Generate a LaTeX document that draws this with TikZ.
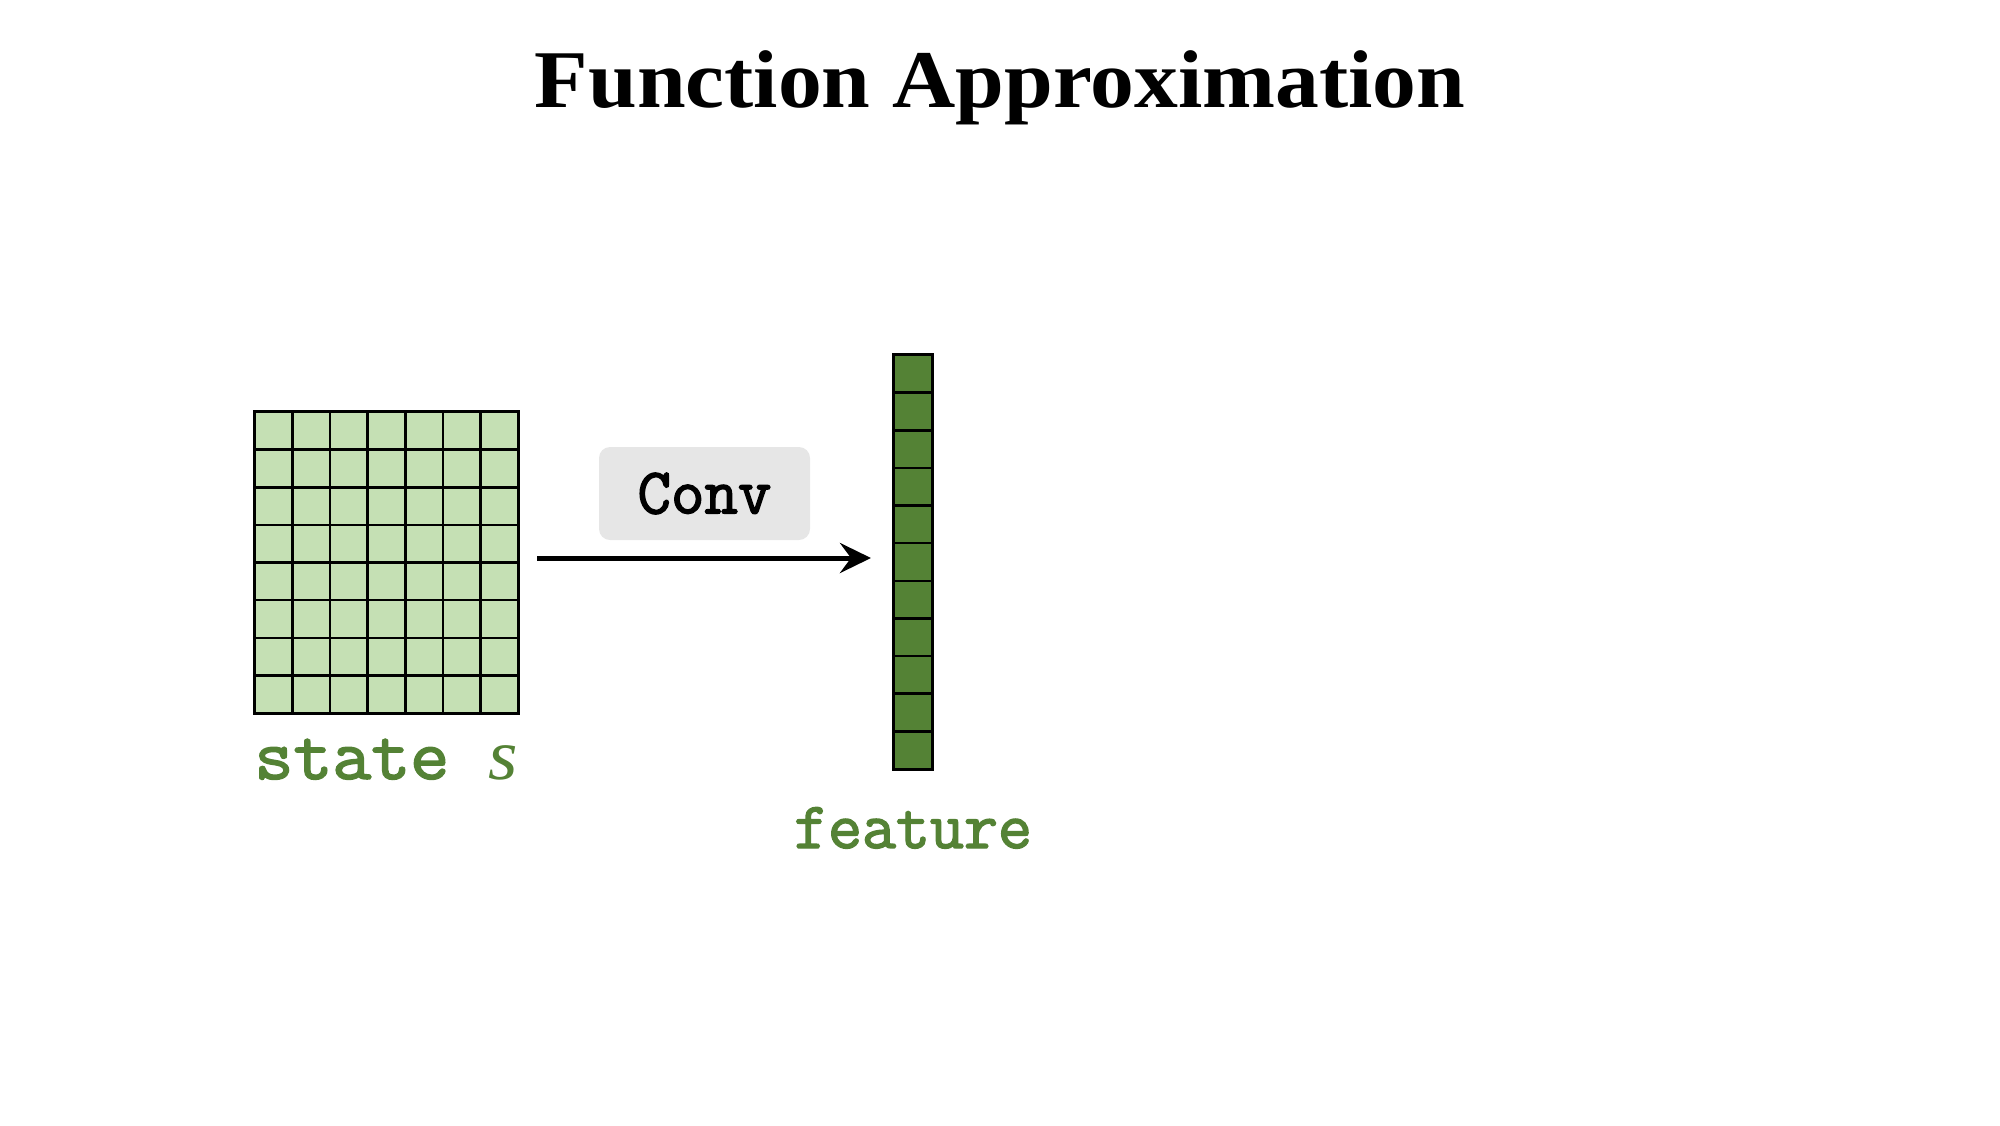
\documentclass[tikz,border=0pt]{standalone}
\usepackage{fontspec}
\setmainfont{Liberation Serif}
\newfontfamily\ttbold[FakeBold=2.2]{Latin Modern Mono}
\usetikzlibrary{arrows.meta}
\definecolor{lightg}{HTML}{C5E0B4}
\definecolor{darkg}{HTML}{548235}
\definecolor{boxgray}{HTML}{E6E6E6}
\tikzset{
  cellline/.style={line width=2.5pt, draw=black},
  borderline/.style={line width=3pt, draw=black},
  labeltext/.style={text=darkg, anchor=base, inner sep=0pt},
  convbox/.style={fill=boxgray, rounded corners=11pt, minimum width=211pt, minimum height=93pt, inner sep=0pt,
    font=\fontsize{65}{65}\selectfont\ttbold},
  flowarrow/.style={line width=5pt, -{Stealth[length=31pt, width=30pt, inset=11pt]}}
}
\begin{document}
\begin{tikzpicture}[x=1pt,y=-1pt]
\useasboundingbox (0,0) rectangle (2000,1125);
% title
\node[font=\fontsize{82}{82}\selectfont\bfseries, anchor=base, inner sep=0pt] (title) at (1000,107) {\scalebox{1.068}[1]{Function Approximation}};
% state grid
\node[fill=lightg, minimum width=263pt, minimum height=301pt, inner sep=0pt] (state) at (386.5,562.5) {};
\foreach \i in {1,...,6} {\draw[cellline] (255+\i*37.5714,412) -- (255+\i*37.5714,713);}
\foreach \j in {1,...,7} {\draw[cellline] (255,412+\j*37.625) -- (518,412+\j*37.625);}
\draw[borderline] (state.north west) rectangle (state.south east);
\node[labeltext, font=\fontsize{72}{72}\selectfont\ttbold] (statelbl) at (386,779) {\scalebox{1.05}[1]{state \rmfamily\itshape s}};
% feature column
\node[fill=darkg, minimum width=38pt, minimum height=414pt, inner sep=0pt] (feat) at (913,562) {};
\foreach \j in {1,...,10} {\draw[cellline] (894,355+\j*37.636) -- (932,355+\j*37.636);}
\draw[borderline] (feat.north west) rectangle (feat.south east);
\node[labeltext, font=\fontsize{66}{66}\selectfont\ttbold] (featlbl) at (913,848) {feature};
% conv
\node[convbox] (conv) at (704.5,493.5) {Conv};
\coordinate (a0) at (537,558);
\coordinate (a1) at (871,558);
\draw[flowarrow] (a0) -- (a1);
\end{tikzpicture}
\end{document}
